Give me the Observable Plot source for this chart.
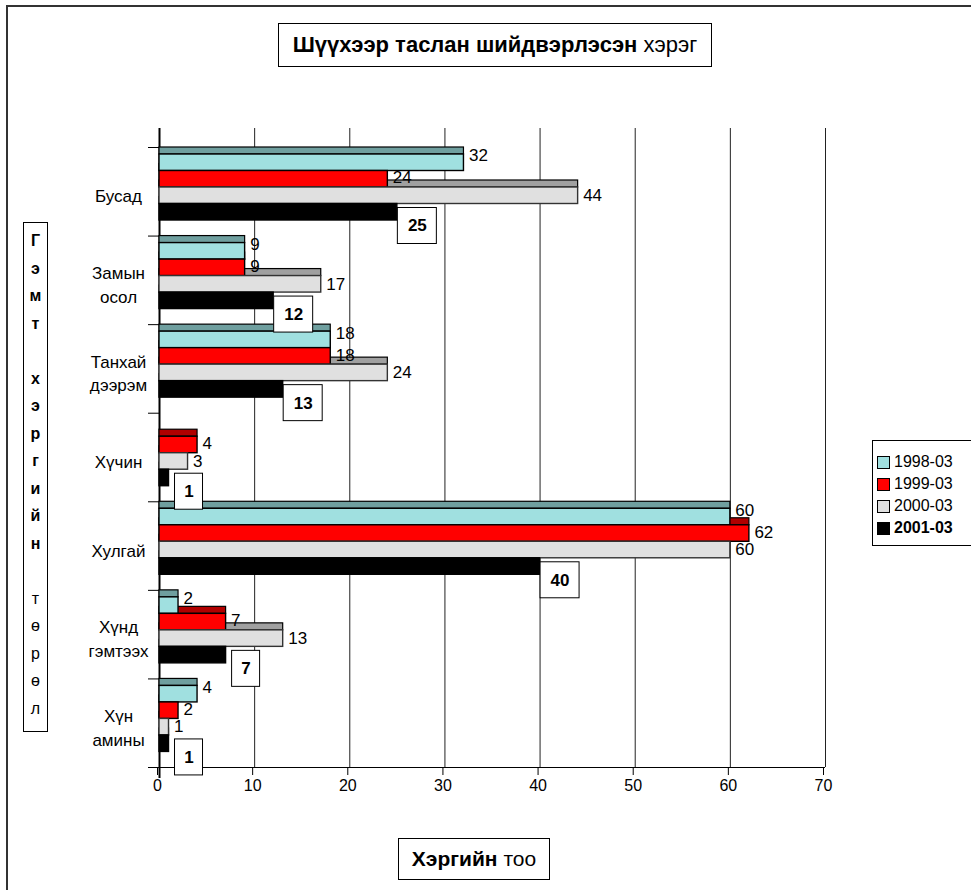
<!DOCTYPE html>
<html><head><meta charset="utf-8">
<script src="https://cdn.jsdelivr.net/npm/d3@7"></script>
<script src="https://cdn.jsdelivr.net/npm/@observablehq/plot@0.6"></script>
<style>
html,body{margin:0;padding:0;background:#fff;overflow:hidden;}
#wrap{position:relative;width:971px;height:890px;overflow:hidden;font-family:"Liberation Sans",Arial,sans-serif;color:#000;}
#wrap svg{position:absolute;left:0;top:0;}
.box{position:absolute;border:1px solid #000;background:#fff;box-sizing:border-box;}
.ctr{display:flex;align-items:center;justify-content:center;white-space:pre;}
.frame{position:absolute;left:6px;top:5px;width:1200px;height:1200px;border-left:2px solid #333;border-top:2px solid #333;}
</style></head><body><div id="wrap"><div class="frame"></div></div>
<script>
// ---- data ----
const categories = ["Бусад","Замын осол","Танхай дээрэм","Хүчин","Хулгай","Хүнд гэмтээх","Хүн амины"];
const categoryLabels = ["Бусад","Замын\nосол","Танхай\nдээрэм","Хүчин","Хулгай","Хүнд\nгэмтээх","Хүн\nамины"];
const seriesNames = ["1998-03","1999-03","2000-03","2001-03"];
const v1998 = [32, 9, 18, null, 60, 2, 4];
const v1999 = [24, 9, 18, 4, 62, 7, 2];
const v2000 = [44, 17, 24, 3, 60, 13, 1];
const v2001 = [25, 12, 13, 1, 40, 7, 1];
const xTicks = [0,10,20,30,40,50,60,70];
const titleBold = "Шүүхээр таслан шийдвэрлэсэн";
const titleRest = "хэрэг";
const yTitleBold = "Гэмт хэргийн";
const yTitleRest = "төрөл";
const xTitleBold = "Хэргийн";
const xTitleRest = "тоо";

// ---- styles ----
const bodyColors = ["#a0e0e0","#ff0000","#e0e0e0","#000000"];
const topColors  = ["#6f9f9f","#b00000","#a0a0a0","#000000"];

// ---- layout ----
const W = 971, H = 890;
const mL = 159, mR = 146, mT = 128, mB = 123;
const PXX = (W - mL - mR) / 70;         // px per unit on x
const bandTopPx = 147, bandBotPx = 767;
const PXY = (bandBotPx - bandTopPx) / categories.length; // px per band
const u = px => px / PXY;               // px -> y units
const ux = px => px / PXX;              // px -> x units
const BODY = 16.5, FIRST = 7, STRIP = 7;
const LABEL_OFF = [1.5, 7, 8];          // label centre below each body top, px

const seriesValues = [v1998, v1999, v2000, v2001];
const rows = [];
categories.forEach((c, i) => seriesValues.forEach((vals, s) => {
  if (vals[i] != null) rows.push({cat: c, i, s, value: vals[i]});
}));
const bodyTop = d => d.i + u(FIRST + BODY * d.s);
const bodyBot = d => bodyTop(d) + u(BODY);
const plain = rows.filter(d => d.s < 3);
const boxed = rows.filter(d => d.s === 3);
const boxW = d => 17 + 11 * String(d.value).length;

const chart = Plot.plot({
  width: W, height: H,
  marginLeft: mL, marginRight: mR, marginTop: mT, marginBottom: mB,
  style: {fontFamily: "Liberation Sans, Arial, sans-serif", fontSize: "16px", color: "#000", background: "transparent"},
  x: {domain: [0, 70]},
  y: {domain: [-u(bandTopPx - mT), categories.length], reverse: true, axis: null},
  color: {type: "identity"},
  marks: [
    Plot.ruleX(xTicks.slice(1), {stroke: "#222", strokeWidth: 1}),
    Plot.ruleY(d3.range(categories.length + 1), {x1: -ux(11), x2: 0, stroke: "#000", strokeWidth: 1}),
    Plot.ruleY([categories.length], {x1: -ux(11), x2: 70, stroke: "#000", strokeWidth: 1.2}),
    Plot.ruleX([0], {y1: -u(bandTopPx - mT), y2: categories.length + u(11), stroke: "#000", strokeWidth: 2}),
    Plot.axisX({ticks: xTicks, tickSize: 8, tickPadding: 4, label: null, fontSize: 16, dx: -2}),
    // top faces (3D strips)
    Plot.rect(rows, {x1: 0, x2: "value", y1: d => bodyTop(d) - u(STRIP), y2: bodyTop,
      fill: d => topColors[d.s], stroke: "#000", strokeWidth: 1.2}),
    // bar bodies
    Plot.rect(rows, {x1: 0, x2: "value", y1: bodyTop, y2: bodyBot,
      fill: d => bodyColors[d.s], stroke: d => d.s === 2 ? "#333" : "#000", strokeWidth: 1.4}),
    // category labels
    Plot.text(categories, {x: 0, y: (d, i) => i + 0.5, text: (d, i) => categoryLabels[i],
      dx: -41, dy: 3, textAnchor: "middle", lineHeight: 1.4, fontSize: 17}),
    // value labels
    Plot.text(plain, {x: "value", y: d => bodyTop(d) + u(LABEL_OFF[d.s]), text: d => String(d.value), dx: 5,
      textAnchor: "start", fontSize: 17}),
    // boxed labels for 2001-03
    Plot.rect(boxed, {x1: d => d.value + ux(20 - boxW(d) / 2), x2: d => d.value + ux(20 + boxW(d) / 2),
      y1: d => bodyTop(d) + u(4), y2: d => bodyTop(d) + u(40), fill: "#fff", stroke: "#000", strokeWidth: 1}),
    Plot.text(boxed, {x: "value", y: d => bodyTop(d) + u(22), text: d => String(d.value), dx: 20,
      textAnchor: "middle", fontWeight: "bold", fontSize: 17})
  ]
});
const wrap = document.getElementById("wrap");
wrap.appendChild(chart);

function addBox(left, top, w, h, html, extra, cls) {
  const b = document.createElement("div");
  b.className = "box" + (cls ? " " + cls : "");
  Object.assign(b.style, {left: left + "px", top: top + "px", width: w + "px", height: h + "px"}, extra || {});
  b.innerHTML = html;
  wrap.appendChild(b);
  return b;
}
// title
addBox(278, 23, 434, 44, `<span><b>${titleBold}</b> ${titleRest}</span>`, {fontSize: "22px"}, "ctr");
// x title
addBox(398, 838, 152, 42, `<span><b>${xTitleBold}</b> ${xTitleRest}</span>`, {fontSize: "21px"}, "ctr");
// y title (vertical letters)
const yb = addBox(23, 222, 25, 510, "");
const yChars = (yTitleBold + " " + yTitleRest).split("");
yChars.forEach((ch, k) => {
  const s = document.createElement("div");
  Object.assign(s.style, {position: "absolute", left: "0", width: "23px", textAlign: "center",
    top: (240 - 222 - 10 + 27.5 * k) + "px", fontSize: "16px", lineHeight: "20px",
    fontWeight: k < yTitleBold.length ? "bold" : "normal"});
  s.textContent = ch;
  yb.appendChild(s);
});
// legend
const lg = addBox(872, 440, 120, 106, "");
seriesNames.forEach((name, k) => {
  const row = document.createElement("div");
  Object.assign(row.style, {position: "absolute", left: "4px", top: (11 + 22 * k) + "px", height: "20px",
    display: "flex", alignItems: "center", fontSize: "16px", whiteSpace: "nowrap",
    fontWeight: k === 3 ? "bold" : "normal"});
  const sw = document.createElement("span");
  Object.assign(sw.style, {display: "inline-block", width: "11px", height: "11px", background: bodyColors[k],
    border: "1px solid #000", marginRight: "4px"});
  row.appendChild(sw);
  row.appendChild(document.createTextNode(name));
  lg.appendChild(row);
});
</script>
</body></html>
